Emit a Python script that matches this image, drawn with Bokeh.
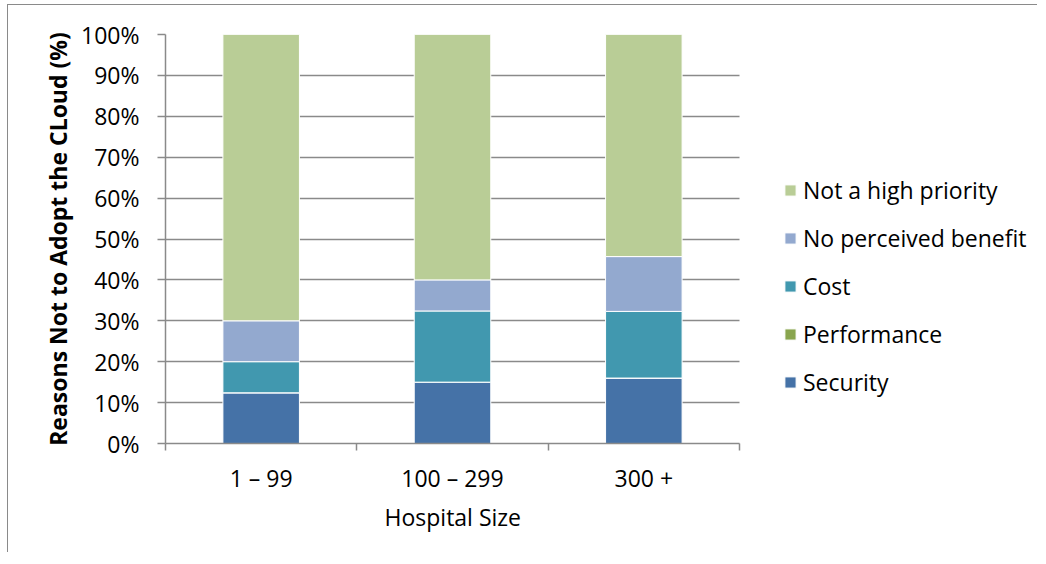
from bokeh.plotting import figure
from bokeh.models import (ColumnDataSource, FixedTicker, PrintfTickFormatter,
                          Legend, LegendItem, Range1d, Title)
from bokeh.embed import file_html
from bokeh.resources import INLINE

categories = ["1 – 99", "100 – 299", "300 +"]
series = ["Security", "Performance", "Cost", "No perceived benefit", "Not a high priority"]
security = [12.4, 15.0, 16.0]
performance = [0.0, 0.0, 0.0]
cost = [7.6, 17.4, 16.3]
no_benefit = [10.0, 7.6, 13.4]
not_priority = [70.0, 60.0, 54.3]
colors = ["#4572A7", "#89A54E", "#4198AF", "#93A9CF", "#B9CD96"]
y_ticks = [0, 10, 20, 30, 40, 50, 60, 70, 80, 90, 100]
x_title = "Hospital Size"
y_title = "Reasons Not to Adopt the CLoud (%)"

FONT = "Open Sans"
FS = "23px"
GRAY = "#8a8a8a"

# layout (pixels)
FIG_W, FIG_H = 1030, 548
BORDER_L, BORDER_T, BORDER_B, BORDER_R = 157, 29, 110, 4
AXIS_W = 574  # pixel width of the category axis
X_TITLE_W = 136  # approximate rendered width of the x title
frame_w = FIG_W - BORDER_L - BORDER_R
n = len(categories)
x_start = 0.5
x_axis_end = n + 0.5
x_end = x_start + n * frame_w / AXIS_W

xs = [i + 1 for i in range(n)]
src = ColumnDataSource(dict(x=xs, **{
    "Security": security,
    "Performance": performance,
    "Cost": cost,
    "No perceived benefit": no_benefit,
    "Not a high priority": not_priority,
}))

p = figure(width=FIG_W, height=FIG_H, x_range=Range1d(x_start, x_end),
           y_range=Range1d(0, 100), output_backend="svg", toolbar_location=None,
           min_border_left=BORDER_L, min_border_top=BORDER_T,
           min_border_bottom=BORDER_B, min_border_right=BORDER_R)
p.margin = (4, 0, 0, 7)
p.styles = {"border-left": "1px solid #8a8a8a", "border-top": "1px solid #8a8a8a"}
p.outline_line_color = None
p.xgrid.grid_line_color = None
p.ygrid.grid_line_color = GRAY
p.ygrid.grid_line_width = 1.5
p.ygrid.ticker = FixedTicker(ticks=y_ticks)
p.ygrid.cross_bounds = (x_start, x_axis_end)

renderers = p.vbar_stack(series, x="x", width=0.4, color=colors, source=src,
                         line_color="white", line_width=1)

# x axis
xa = p.xaxis[0]
xa.bounds = (x_start, x_axis_end)
xa.ticker = FixedTicker(ticks=xs, minor_ticks=[i + 0.5 for i in range(n + 1)])
xa.major_label_overrides = {x: c for x, c in zip(xs, categories)}
xa.major_tick_in = 0
xa.major_tick_out = 0
xa.minor_tick_in = 0
xa.minor_tick_out = 7
xa.minor_tick_line_color = GRAY
xa.minor_tick_line_width = 1.5
xa.axis_line_color = GRAY
xa.axis_line_width = 1.5
xa.major_label_standoff = 11
xa.major_label_text_font = FONT
xa.major_label_text_font_size = FS
xa.major_label_text_color = "black"

# x axis title, centred under the category axis
p.add_layout(Title(text=x_title, align="left",
                   offset=(AXIS_W - X_TITLE_W) / 2, standoff=4,
                   text_font=FONT, text_font_size=FS, text_font_style="normal",
                   text_color="black"), "below")

# y axis
ya = p.yaxis[0]
ya.ticker = FixedTicker(ticks=y_ticks)
ya.formatter = PrintfTickFormatter(format="%d%%")
ya.major_tick_in = 0
ya.major_tick_out = 8
ya.major_tick_line_color = GRAY
ya.major_tick_line_width = 1.5
ya.minor_tick_line_color = None
ya.axis_line_color = GRAY
ya.axis_line_width = 1.5
ya.major_label_standoff = 18
ya.major_label_text_font = FONT
ya.major_label_text_font_size = FS
ya.major_label_text_color = "black"
ya.axis_label = y_title
ya.axis_label_text_font = FONT
ya.axis_label_text_font_style = "bold"
ya.axis_label_text_font_size = FS
ya.axis_label_text_color = "black"
ya.axis_label_standoff = 4

items = [LegendItem(label=s, renderers=[r]) for s, r in zip(series, renderers)][::-1]
legend = Legend(items=items, location=(618, 45), padding=0, margin=0,
                border_line_color=None, background_fill_alpha=0,
                glyph_width=14, glyph_height=14, label_standoff=6,
                label_height=30, spacing=16,
                label_text_font=FONT, label_text_font_size=FS,
                label_text_color="black")
p.add_layout(legend, "center")

open("out.html", "w").write(file_html(p, INLINE))
